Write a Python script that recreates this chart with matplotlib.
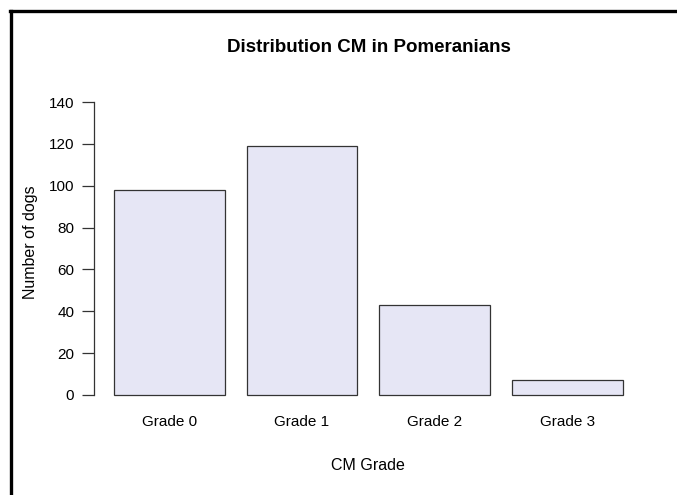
import matplotlib.pyplot as plt
from matplotlib.lines import Line2D

plt.rcParams['font.family'] = ['Liberation Sans', 'DejaVu Sans']

grades = ['Grade 0', 'Grade 1', 'Grade 2', 'Grade 3']
dogs = [98, 119, 43, 7]
yticks = [0, 20, 40, 60, 80, 100, 120, 140]

fig = plt.figure(figsize=(6.77, 4.95), dpi=100)
ax = fig.add_axes([0.1383, 0.1784, 0.8115, 0.6392])

# R barplot layout: width 1, space 0.2
pos = [0.2 + 1.2 * i + 0.5 for i in range(len(grades))]
ax.bar(pos, dogs, width=1.0, color='#E6E6F5', edgecolor='#333333', linewidth=0.9)

ax.set_xlim(0.016, 4.984)
ax.set_ylim(-5.6, 145.6)
ax.set_yticks(yticks)
ax.set_xticks(pos)
ax.set_xticklabels(grades)
ax.tick_params(axis='y', length=9, width=0.9, color='#333333', labelsize=11, pad=5)
ax.tick_params(axis='x', length=0, labelsize=11, pad=6)

for s in ['top', 'right', 'bottom']:
    ax.spines[s].set_visible(False)
ax.spines['left'].set_bounds(0, 140)
ax.spines['left'].set_color('#333333')
ax.spines['left'].set_linewidth(0.9)

ax.set_ylabel('Number of dogs', fontsize=11.5)
ax.yaxis.set_label_coords(-0.102, 0.52)
ax.set_xlabel('CM Grade', fontsize=11.5, labelpad=21)
fig.text(0.5455, 0.905, 'Distribution CM in Pomeranians', ha='center', va='center',
         fontsize=13.5, fontweight='bold')

# border around the pasted image (left and top only visible)
fig.add_artist(Line2D([0.0165, 0.0165], [0.0, 0.978], transform=fig.transFigure,
                      color='black', linewidth=2.4))
fig.add_artist(Line2D([0.015, 1.0], [0.978, 0.978], transform=fig.transFigure,
                      color='black', linewidth=2.4))

fig.savefig('out.png', dpi=100)
